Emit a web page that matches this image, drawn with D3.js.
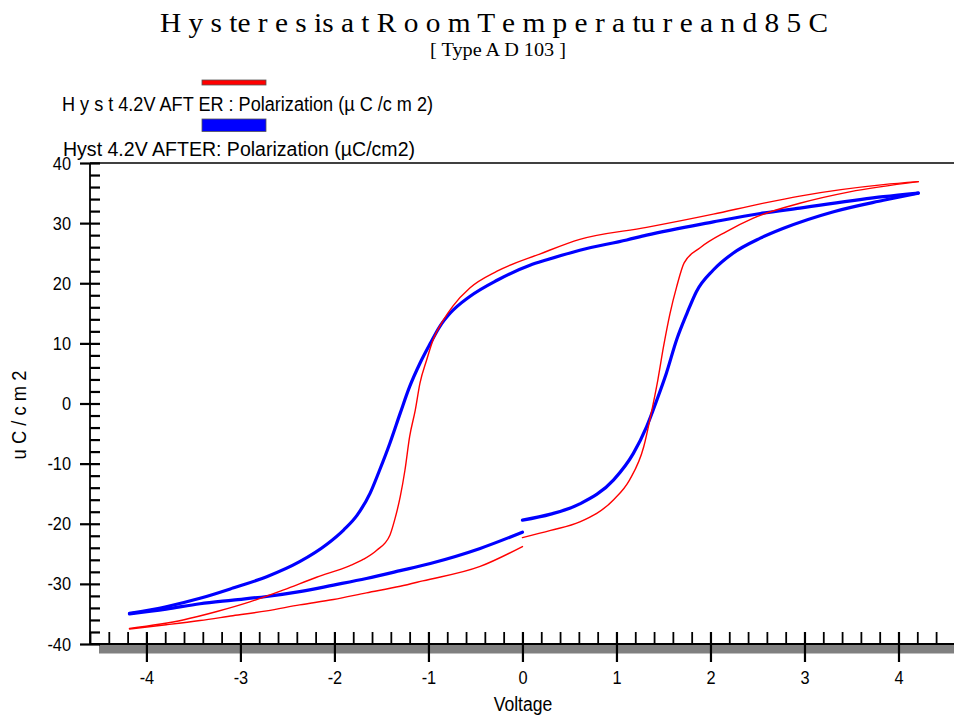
<!DOCTYPE html>
<html>
<head>
<meta charset="utf-8">
<script src="https://cdn.jsdelivr.net/npm/d3@7"></script>
<style>
  body { margin: 0; background: #fff; }
  svg { display: block; }
  .sans { font-family: "Liberation Sans Narrow", "Arial Narrow", "Liberation Sans", Arial, sans-serif; }
  .serif { font-family: "Liberation Serif", "Times New Roman", serif; }
</style>
</head>
<body>
<svg id="chart" width="954" height="719"></svg>
<script>
// ---------- data ----------
const titleText = "H y s te r e s is a t R o o m T e m p e r a tu r e a n d 8 5 C";
const subtitleText = "[ Type A D 103 ]";
const legendLabels = ["H y s t 4.2V AFT ER : Polarization (\u00b5 C /c m 2)", "Hyst 4.2V AFTER: Polarization (\u00b5C/cm2)"];
const xLabel = "Voltage";
const yLabel = "u C / c m 2";
const xMajorTicks = [-4, -3, -2, -1, 0, 1, 2, 3, 4];
const yMajorTicks = [-40, -30, -20, -10, 0, 10, 20, 30, 40];

// red series: [voltage, polarization]  (0 -> +4.2 -> -4.2 -> 0)
const redUp = [[0.0,-22.3],[0.3,-21.1],[0.61,-19.7],[0.97,-16.0],[1.14,-12.7],[1.29,-7.2],[1.37,-1.6],[1.44,3.9],[1.50,9.4],[1.57,15.0],[1.64,19.4],[1.72,23.4],[1.89,25.9],[2.17,28.6],[2.45,30.8],[2.95,33.3],[3.48,35.2],[4.21,36.9]];
const redDown = [[4.21,36.9],[3.84,36.4],[2.95,34.5],[2.53,33.2],[2.03,31.5],[1.32,29.3],[0.61,27.3],[0.19,24.9],[-0.27,22.0],[-0.56,19.2],[-0.74,16.2],[-0.84,13.9],[-0.95,10.6],[-1.02,7.2],[-1.09,3.4],[-1.14,-1.1],[-1.20,-5.5],[-1.25,-11.1],[-1.30,-15.5],[-1.36,-19.4],[-1.41,-21.9],[-1.55,-24.4],[-1.69,-25.9],[-1.84,-27.0],[-2.19,-28.9],[-2.54,-31.0],[-2.90,-33.0],[-3.25,-34.6],[-3.61,-36.0],[-4.18,-37.4]];
const redBack = [[-4.18,-37.5],[-3.79,-36.8],[-3.43,-36.1],[-3.08,-35.3],[-2.72,-34.5],[-2.37,-33.5],[-2.01,-32.6],[-1.66,-31.5],[-1.30,-30.4],[-1.06,-29.5],[-0.45,-27.1],[0.0,-23.8]];

// blue series
const blueUp = [[0.0,-19.4],[0.3,-18.4],[0.61,-16.7],[0.97,-12.7],[1.18,-8.3],[1.32,-3.9],[1.43,0.6],[1.53,5.0],[1.64,10.6],[1.75,15.0],[1.85,18.6],[2.03,22.2],[2.24,25.0],[2.53,27.5],[2.77,29.1],[3.31,31.9],[3.84,33.8],[4.21,35.0]];
const blueDown = [[4.21,35.0],[3.84,34.4],[2.95,32.5],[2.53,31.6],[2.03,30.2],[1.32,28.0],[1.11,27.2],[0.61,25.5],[0.26,23.9],[0.08,23.0],[-0.27,20.5],[-0.56,17.8],[-0.77,15.0],[-0.88,12.8],[-0.98,10.0],[-1.09,6.7],[-1.20,2.8],[-1.30,-1.6],[-1.41,-6.6],[-1.52,-11.1],[-1.62,-14.9],[-1.76,-18.6],[-1.90,-21.0],[-2.08,-23.4],[-2.37,-26.3],[-2.72,-28.8],[-3.08,-30.7],[-3.43,-32.4],[-3.79,-33.8],[-4.18,-34.9]];
const blueBack = [[-4.18,-35.0],[-3.79,-34.2],[-3.43,-33.3],[-3.08,-32.7],[-2.72,-32.1],[-2.37,-31.3],[-2.01,-30.2],[-1.66,-29.1],[-1.30,-27.8],[-0.98,-26.6],[-0.45,-24.1],[0.0,-21.4]];

const redColor = "#ff0000";
const blueColor = "#0000ff";

// ---------- layout ----------
const svg = d3.select("#chart");
const plotLeft = 90, plotRight = 954.9, plotTop = 163, plotBottom = 644;
const x = d3.scaleLinear().domain([-4.6, 4.6]).range([plotLeft, plotRight]);
const y = d3.scaleLinear().domain([-40, 40]).range([plotBottom, plotTop]);

const xMinor = d3.range(-46, 47, 2).map(d => d / 10).filter(d => !xMajorTicks.includes(d));
const yMinor = d3.range(-40, 41, 2).filter(d => !yMajorTicks.includes(d));
const fmt = d => String(d);

// condense a text horizontally (the original uses a narrow sans face)
function narrow(sel, f) {
  sel.each(function () {
    const w = this.getComputedTextLength();
    d3.select(this).attr("textLength", w * f).attr("lengthAdjust", "spacingAndGlyphs");
  });
}

// title
svg.append("text").attr("class", "serif")
  .attr("x", 160).attr("y", 32).attr("font-size", 28)
  .attr("textLength", 668).attr("lengthAdjust", "spacingAndGlyphs")
  .text(titleText);
svg.append("text").attr("class", "serif")
  .attr("x", 430).attr("y", 56).attr("font-size", 18)
  .attr("textLength", 136).attr("lengthAdjust", "spacingAndGlyphs")
  .text(subtitleText);

// legend
svg.append("rect").attr("x", 202).attr("y", 80).attr("width", 64).attr("height", 5)
  .attr("fill", redColor).attr("stroke", "#555").attr("stroke-width", 0.8);
svg.append("text").attr("class", "sans").attr("x", 62).attr("y", 111).attr("font-size", 20)
  .attr("textLength", 371).attr("lengthAdjust", "spacingAndGlyphs").text(legendLabels[0]);
svg.append("rect").attr("x", 202).attr("y", 119).attr("width", 64).attr("height", 12.5)
  .attr("fill", blueColor).attr("stroke", "#555").attr("stroke-width", 0.8);
svg.append("text").attr("class", "sans").attr("x", 63).attr("y", 156).attr("font-size", 20)
  .attr("textLength", 352).attr("lengthAdjust", "spacingAndGlyphs").text(legendLabels[1]);

// gray band under x axis
svg.append("rect").attr("x", 99).attr("y", plotBottom).attr("width", 954 - 99).attr("height", 9.5)
  .attr("fill", "#808080");

// frame lines
svg.append("line").attr("x1", plotLeft).attr("x2", 954).attr("y1", plotTop).attr("y2", plotTop)
  .attr("stroke", "#000").attr("stroke-width", 1.6);
svg.append("line").attr("x1", plotLeft).attr("x2", plotLeft).attr("y1", plotTop).attr("y2", plotBottom)
  .attr("stroke", "#000").attr("stroke-width", 1.8);
svg.append("line").attr("x1", plotLeft).attr("x2", 954).attr("y1", plotBottom).attr("y2", plotBottom)
  .attr("stroke", "#000").attr("stroke-width", 1.8);

// y axis ticks
const yMajorG = svg.append("g").attr("transform", `translate(${plotLeft},0)`)
  .call(d3.axisLeft(y).tickValues(yMajorTicks).tickSizeInner(10).tickSizeOuter(0).tickFormat(fmt));
yMajorG.select(".domain").remove();
yMajorG.attr("font-family", null).attr("font-size", null);
yMajorG.selectAll(".tick line").attr("x1", 10).attr("x2", -10).attr("stroke", "#000").attr("stroke-width", 2.2);
yMajorG.selectAll(".tick text").attr("class", "sans").attr("x", -19).attr("font-size", 19)
  .attr("fill", "#000").call(narrow, 0.86);

const yMinorG = svg.append("g").attr("transform", `translate(${plotLeft},0)`)
  .call(d3.axisRight(y).tickValues(yMinor).tickSize(10).tickSizeOuter(0).tickFormat(""));
yMinorG.select(".domain").remove();
yMinorG.selectAll(".tick line").attr("stroke", "#000").attr("stroke-width", 2.2);

// x axis ticks
const xMajorG = svg.append("g").attr("transform", `translate(0,${plotBottom})`)
  .call(d3.axisBottom(x).tickValues(xMajorTicks).tickSizeInner(18).tickSizeOuter(0).tickFormat(fmt));
xMajorG.select(".domain").remove();
xMajorG.attr("font-family", null).attr("font-size", null);
xMajorG.selectAll(".tick line").attr("y1", -12).attr("y2", 18).attr("stroke", "#000").attr("stroke-width", 2.2);
xMajorG.selectAll(".tick text").attr("class", "sans").attr("y", 27).attr("font-size", 19)
  .attr("fill", "#000").call(narrow, 0.86);

const xMinorG = svg.append("g").attr("transform", `translate(0,${plotBottom})`)
  .call(d3.axisTop(x).tickValues(xMinor).tickSize(12).tickSizeOuter(0).tickFormat(""));
xMinorG.select(".domain").remove();
xMinorG.selectAll(".tick line").attr("stroke", "#000").attr("stroke-width", 1.8);

// axis titles
svg.append("text").attr("class", "sans").attr("x", 523).attr("y", 711).attr("font-size", 20)
  .attr("text-anchor", "middle").text(xLabel).call(narrow, 0.88);
svg.append("text").attr("class", "sans").attr("font-size", 20).attr("text-anchor", "middle")
  .attr("transform", "translate(26,415) rotate(-90)").text(yLabel).call(narrow, 0.92);

// curves: each branch drawn with a monotone-in-x curve
const line = d3.line().x(d => x(d[0])).y(d => y(d[1])).curve(d3.curveMonotoneX);
const byX = arr => arr.slice().sort((a, b) => a[0] - b[0]);

[blueUp, blueDown, blueBack].forEach(branch => {
  svg.append("path").datum(byX(branch)).attr("d", line)
    .attr("fill", "none").attr("stroke", blueColor).attr("stroke-width", 3.2)
    .attr("stroke-linejoin", "round").attr("stroke-linecap", "round");
});
[redUp, redDown, redBack].forEach(branch => {
  svg.append("path").datum(byX(branch)).attr("d", line)
    .attr("fill", "none").attr("stroke", redColor).attr("stroke-width", 1.4)
    .attr("stroke-linejoin", "round").attr("stroke-linecap", "round");
});
</script>
</body>
</html>
